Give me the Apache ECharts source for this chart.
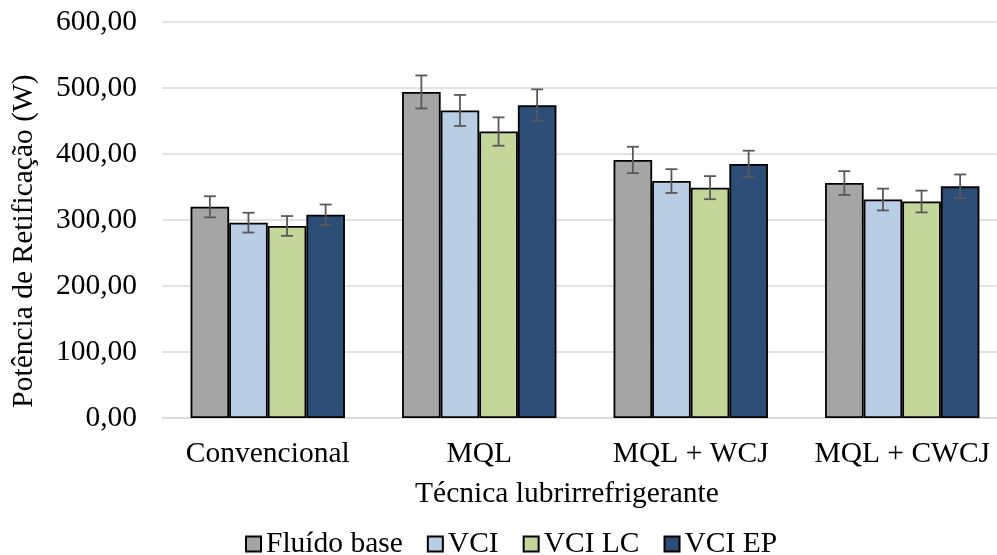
<!DOCTYPE html>
<html>
<head>
<meta charset="utf-8">
<script src="https://cdn.jsdelivr.net/npm/echarts@6/dist/echarts.min.js"></script>
<style>html,body{margin:0;padding:0;background:#fff;overflow:hidden;}#c{width:1020px;height:555px;}</style>
</head>
<body>
<div id="c"></div>
<script>
const categories = ['Convencional', 'MQL', 'MQL + WCJ', 'MQL + CWCJ'];
const seriesNames = ['Fluído base', 'VCI', 'VCI LC', 'VCI EP'];
const fluidoBase = [320, 494, 391, 356];
const vci = [296, 466, 359, 331];
const vciLC = [291, 434, 349, 328];
const vciEP = [308, 474, 385, 351];
const errFluidoBase = [16, 25, 20, 18];
const errVci = [15, 23.5, 18, 16.5];
const errVciLC = [15, 21.5, 17.5, 16.5];
const errVciEP = [15.5, 24, 20, 18];
const yTicks = [0, 100, 200, 300, 400, 500, 600];

const values = [fluidoBase, vci, vciLC, vciEP];
const errors = [errFluidoBase, errVci, errVciLC, errVciEP];
const colors = ['#a5a5a5', '#b9cde5', '#c4d79b', '#2c4d75'];
const gapRatio = 0.27;
const font = 'Liberation Serif';
const fs = 29.5;

const chart = echarts.init(document.getElementById('c'), null, {renderer: 'canvas'});

const series = [];
values.forEach((vals, i) => {
  series.push({
    name: seriesNames[i],
    type: 'bar',
    data: vals,
    barGap: '0%',
    barCategoryGap: (gapRatio * 100) + '%',
    itemStyle: {color: colors[i], borderColor: '#000', borderWidth: 1.8},
    z: 2
  });
});
values.forEach((vals, i) => {
  series.push({
    type: 'custom',
    name: seriesNames[i] + ' err',
    data: vals.map((v, k) => [k, v - errors[i][k], v + errors[i][k]]),
    z: 5,
    silent: true,
    renderItem: function (params, api) {
      const k = api.value(0);
      const lo = api.coord([k, api.value(1)]);
      const hi = api.coord([k, api.value(2)]);
      const band = api.size([1, 0])[0];
      const bw = band * (1 - gapRatio) / 4;
      const x = lo[0] - band * (1 - gapRatio) / 2 + bw * (i + 0.5);
      const cap = 6;
      const st = {stroke: '#595959', lineWidth: 1.8};
      return {
        type: 'group',
        children: [
          {type: 'line', shape: {x1: x, y1: lo[1], x2: x, y2: hi[1]}, style: st},
          {type: 'line', shape: {x1: x - cap, y1: lo[1], x2: x + cap, y2: lo[1]}, style: st},
          {type: 'line', shape: {x1: x - cap, y1: hi[1], x2: x + cap, y2: hi[1]}, style: st}
        ]
      };
    }
  });
});

chart.setOption({
  animation: false,
  backgroundColor: '#fff',
  textStyle: {fontFamily: font, color: '#000'},
  grid: {left: 162, width: 846, top: 22, bottom: 137, containLabel: false},
  legend: {
    data: seriesNames,
    top: 524,
    left: 240,
    icon: 'rect',
    itemWidth: 15,
    itemHeight: 15,
    itemGap: 24,
    textStyle: {fontFamily: font, fontSize: 29.5, color: '#000', padding: [0, 0, 0, 0]}
  },
  xAxis: {
    type: 'category',
    data: categories,
    axisLine: {lineStyle: {color: '#d9d9d9', width: 1.5}},
    axisTick: {show: false},
    axisLabel: {fontFamily: font, fontSize: fs, color: '#000', margin: 21, interval: 0}
  },
  yAxis: {
    type: 'value',
    min: yTicks[0],
    max: yTicks[yTicks.length - 1],
    interval: 100,
    axisLine: {show: false},
    axisTick: {show: false},
    splitLine: {lineStyle: {color: '#d9d9d9', width: 1.5}},
    axisLabel: {
      fontFamily: font, fontSize: fs, color: '#000', margin: 25,
      formatter: v => v.toFixed(2).replace('.', ',')
    }
  },
  graphic: [{
    type: 'text',
    x: 567,
    y: 494,
    style: {text: 'Técnica lubrirrefrigerante', font: fs + 'px "' + font + '"', fill: '#000', textAlign: 'center', textVerticalAlign: 'middle'}
  }, {
    type: 'text',
    x: 24,
    y: 241,
    rotation: Math.PI / 2,
    style: {text: 'Potência de Retificação (W)', font: fs + 'px "' + font + '"', fill: '#000', textAlign: 'center', textVerticalAlign: 'middle'}
  }],
  series: series
});
</script>
</body>
</html>
